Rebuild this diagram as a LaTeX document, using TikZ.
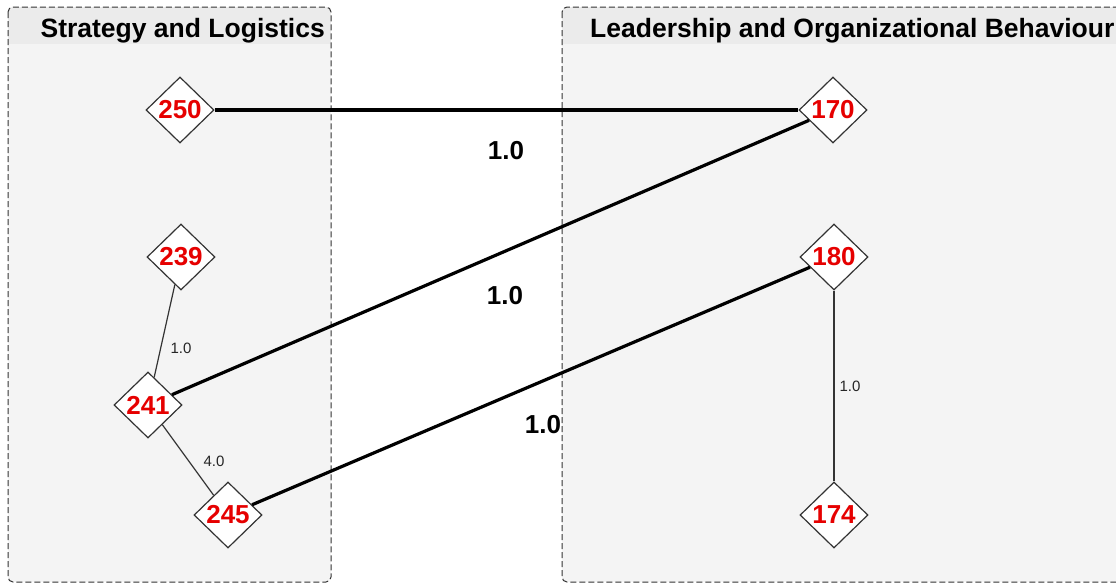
\documentclass[tikz,border=0pt]{standalone}
\usepackage{fontspec}
\setmainfont{Liberation Sans}
\usetikzlibrary{shapes.geometric}
\definecolor{bodyfill}{HTML}{F4F4F4}
\definecolor{headfill}{HTML}{EBEBEB}
\definecolor{numred}{HTML}{E60000}
\definecolor{bordergray}{HTML}{333333}
\begin{document}
\begin{tikzpicture}[x=1pt,y=-1pt,
 numnode/.style={diamond, aspect=1, draw=bordergray, line width=1.2pt, fill=white,
   minimum width=68pt, minimum height=66pt, inner sep=0pt, text=numred,
   font=\fontsize{26}{30}\selectfont\bfseries},
 heavy/.style={line width=3.2pt, draw=black},
 light/.style={line width=1.2pt, draw=black!80},
 biglab/.style={font=\fontsize{26}{30}\selectfont\bfseries, inner sep=0pt},
 smalllab/.style={font=\fontsize{15}{18}\selectfont, inner sep=0pt, text=black!85},
 grouptitle/.style={font=\fontsize{26.5}{30}\selectfont\bfseries, inner sep=0pt},
 groupbox/.style={draw=bordergray, line width=1pt, dash pattern=on 6pt off 3pt, rounded corners=5pt}]
\useasboundingbox (0,0) rectangle (1116,584);
\clip (0,0) rectangle (1116,584);
\fill[white] (0,0) rectangle (1116,584);
% left group
\begin{scope}
\clip[rounded corners=5pt] (8,7) rectangle (331,582);
\fill[bodyfill] (8,7) rectangle (331,582);
\fill[headfill] (8,7) rectangle (331,44);
\end{scope}
\draw[groupbox] (8,7) rectangle (331,582);
% right group
\begin{scope}
\clip[rounded corners=5pt] (562,7) rectangle (1140,582);
\fill[bodyfill] (562,7) rectangle (1140,582);
\fill[headfill] (562,7) rectangle (1140,44);
\end{scope}
\draw[groupbox] (562,7) rectangle (1140,582);
\node[grouptitle, anchor=base east] (t1) at (325,37) {Strategy and Logistics};
\node[grouptitle, anchor=base west] (t2) at (590,37) {Leadership and Organizational Behaviour};
% nodes
\node[numnode] (n250) at (180,110) {250};
\node[numnode] (n239) at (181,257) {239};
\node[numnode] (n241) at (148,405) {241};
\node[numnode] (n245) at (228,515) {245};
\node[numnode] (n170) at (833,110) {170};
\node[numnode] (n180) at (834,257) {180};
\node[numnode] (n174) at (834,515) {174};
% edges
\draw[heavy] (n250) -- (n170);
\draw[heavy] (n241) -- (n170);
\draw[heavy] (n245) -- (n180);
\draw[light] (n239) -- (n241);
\draw[light] (n241) -- (n245);
\draw[light] (n180) -- (n174);
% labels
\node[biglab] (l1) at (506,151) {1.0};
\node[biglab] (l2) at (505,296) {1.0};
\node[biglab] (l3) at (543,425) {1.0};
\node[smalllab] (s1) at (181,348) {1.0};
\node[smalllab] (s2) at (214,461) {4.0};
\node[smalllab] (s3) at (850,386) {1.0};
\end{tikzpicture}
\end{document}
